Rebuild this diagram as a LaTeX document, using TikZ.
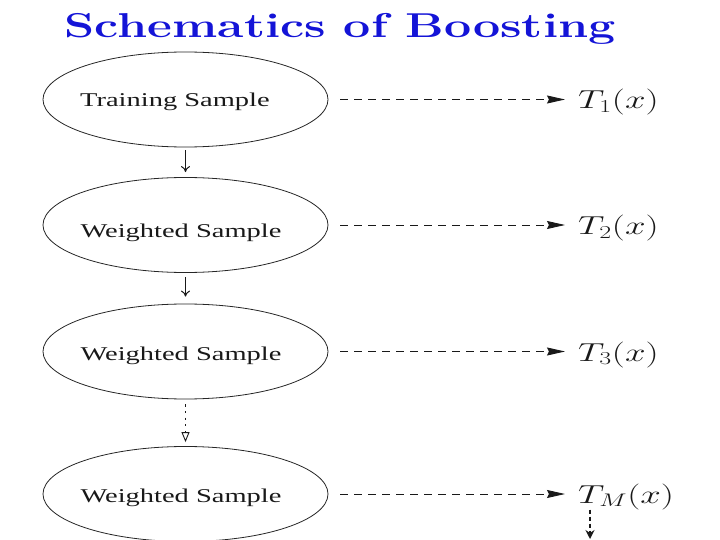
\RequirePackage{fix-cm}
\documentclass[tikz,border=0pt]{standalone}
\usepackage{fontspec}
\newfontfamily\timesfont{Liberation Serif}
\usetikzlibrary{shapes.geometric,arrows.meta}
\definecolor{titleblue}{RGB}{20,20,215}
\begin{document}
\begin{tikzpicture}[x=1pt,y=-1pt,
  ell/.style={ellipse, draw=black!85, line width=0.8pt, minimum width=285pt, minimum height=95pt, inner sep=0pt},
  smp/.style={font=\timesfont\fontsize{19.5}{22}\selectfont, text=black!90, inner sep=0pt, anchor=base},
  tl/.style={font=\fontsize{26}{30}\selectfont, text=black!90, inner sep=0pt, anchor=base west},
  dasharr/.style={draw=black!90, dash pattern=on 8pt off 6pt, line width=0.9pt, -{Stealth[length=18pt,width=8pt,inset=2pt]}, shorten <=12pt, shorten >=13pt},
  solidarr/.style={draw=black!90, line width=1pt, -{To[length=6pt,width=9pt]}},
  dotarr/.style={draw=black!90, dash pattern=on 2.2pt off 4.4pt, line width=1.8pt, -{Triangle[open,length=10pt,width=8pt,line width=0.9pt]}},
  tmarr/.style={draw=black!90, dash pattern=on 4pt off 3pt, line width=1.8pt, -{Stealth[length=9pt,width=9pt]}}
]
\useasboundingbox (0,0) rectangle (720,540);
\node[anchor=base, text=titleblue, font=\fontsize{34.5}{40}\selectfont\bfseries, inner sep=0pt] (title) at (340,38) {\scalebox{1.40}[1]{Schematics of Boosting}};
% ellipses
\node[ell] (e1) at (185.5,99.5) {};
\node[ell] (e2) at (185.5,225) {};
\node[ell] (e3) at (185.5,351.5) {};
\node[ell] (e4) at (185.5,494) {};
\node[smp] (s1) at (175,107) {\scalebox{1.46}[1]{Training Sample}};
\node[smp] (s2) at (181,237) {\scalebox{1.46}[1]{Weighted Sample}};
\node[smp] (s3) at (181,360) {\scalebox{1.46}[1]{Weighted Sample}};
\node[smp] (s4) at (181,502) {\scalebox{1.46}[1]{Weighted Sample}};
% labels
\node[tl] (T1) at (578,109) {\scalebox{1.42}[1]{$T_1(x)$}};
\node[tl] (T2) at (578,235) {\scalebox{1.42}[1]{$T_2(x)$}};
\node[tl] (T3) at (578,361) {\scalebox{1.42}[1]{$T_3(x)$}};
\node[tl] (TM) at (578,503) {\scalebox{1.42}[1]{$T_M(x)$}};
% horizontal dashed arrows
\draw[dasharr] (e1.east) -- (e1.east -| T1.west);
\draw[dasharr] (e2.east) -- (e2.east -| T2.west);
\draw[dasharr] (e3.east) -- (e3.east -| T3.west);
\draw[dasharr] (e4.east) -- (e4.east -| TM.west);
% vertical arrows
\draw[solidarr, shorten <=3pt, shorten >=5pt] (e1.south) -- (e2.north);
\draw[solidarr, shorten <=4pt, shorten >=7pt] (e2.south) -- (e3.north);
\draw[dotarr, shorten <=5pt, shorten >=4pt] (e3.south) -- (e4.north);
\coordinate (mend) at (590,539);
\draw[tmarr] ([xshift=12pt]TM.south west) -- (mend);
\end{tikzpicture}
\end{document}
